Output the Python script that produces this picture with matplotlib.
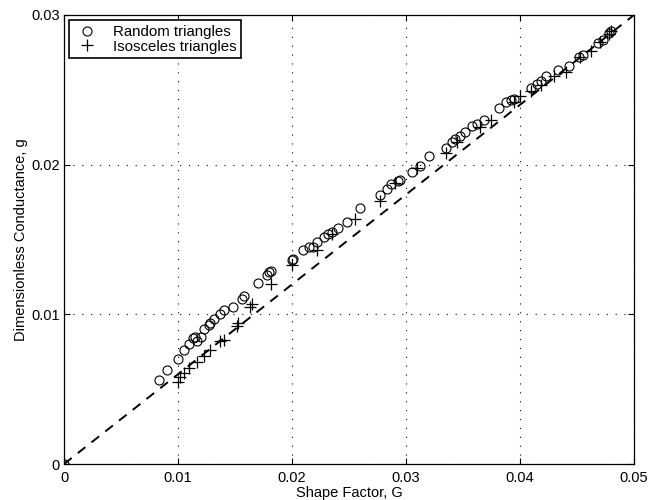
import matplotlib
matplotlib.use("Agg")
import matplotlib.pyplot as plt
import numpy as np

plt.rcParams['font.family'] = ['Liberation Sans', 'DejaVu Sans']

# Random triangles (G, g)
rand_G = [0.0, 0.0083, 0.0090, 0.0100, 0.0105, 0.0110, 0.0113, 0.0115, 0.0117, 0.0120,
          0.0123, 0.0127, 0.0128, 0.0132, 0.0137, 0.0140, 0.0148, 0.0156, 0.0158, 0.0170,
          0.0178, 0.0180, 0.0182, 0.0200, 0.0201, 0.0210, 0.0215, 0.0218, 0.0222, 0.0228,
          0.0232, 0.0235, 0.0240, 0.0248, 0.0260, 0.0277, 0.0283, 0.0287, 0.0293, 0.0295,
          0.0305, 0.0312, 0.0320, 0.0335, 0.0340, 0.0343, 0.0347, 0.0352, 0.0358, 0.0362,
          0.0368, 0.0382, 0.0388, 0.0392, 0.0395, 0.0410, 0.0415, 0.0418, 0.0423, 0.0433,
          0.0443, 0.0452, 0.0455, 0.0468, 0.0473, 0.0478, 0.0480]
rand_g = [0.0, 0.0056, 0.0063, 0.0070, 0.0076, 0.0080, 0.0084, 0.0085, 0.0082, 0.0085,
          0.0090, 0.0093, 0.0094, 0.0097, 0.0100, 0.0103, 0.0105, 0.0110, 0.0112, 0.0121,
          0.0126, 0.0128, 0.0129, 0.0136, 0.0137, 0.0143, 0.0145, 0.0145, 0.0148, 0.0152,
          0.0154, 0.0155, 0.0158, 0.0162, 0.0171, 0.0180, 0.0184, 0.0187, 0.0189, 0.0190,
          0.0195, 0.0199, 0.0206, 0.0211, 0.0215, 0.0217, 0.0219, 0.0222, 0.0226, 0.0227,
          0.0230, 0.0238, 0.0242, 0.0243, 0.0244, 0.0251, 0.0254, 0.0256, 0.0259, 0.0263,
          0.0266, 0.0272, 0.0273, 0.0281, 0.0283, 0.0288, 0.0289]

# Isosceles triangles (G, g)
iso_G = [0.0, 0.0100, 0.0102, 0.0105, 0.0110, 0.0117, 0.0123, 0.0128, 0.0137, 0.0140,
         0.0152, 0.0153, 0.0163, 0.0165, 0.0182, 0.0200, 0.0222, 0.0235, 0.0255, 0.0277,
         0.0290, 0.0310, 0.0335, 0.0345, 0.0365, 0.0375, 0.0395, 0.0400, 0.0410, 0.0418,
         0.0430, 0.0440, 0.0453, 0.0462, 0.0470, 0.0478, 0.0480]
iso_g = [0.0, 0.0055, 0.0058, 0.0061, 0.0064, 0.0068, 0.0072, 0.0076, 0.0082, 0.0083,
         0.0092, 0.0094, 0.0105, 0.0107, 0.0120, 0.0133, 0.0143, 0.0154, 0.0164, 0.0176,
         0.0188, 0.0198, 0.0208, 0.0215, 0.0225, 0.0230, 0.0242, 0.0246, 0.0249, 0.0253,
         0.0259, 0.0262, 0.0272, 0.0276, 0.0282, 0.0287, 0.0289]

# reference line g = 0.6 G
line_G = [0.0, 0.05]
slope = 0.6

ticks_x = [0, 0.01, 0.02, 0.03, 0.04, 0.05]
ticks_y = [0, 0.01, 0.02, 0.03]

fig = plt.figure(figsize=(6.64, 5), dpi=100)
ax = fig.add_axes([0.0964, 0.072, 0.8584, 0.898])

ax.plot(rand_G, rand_g, linestyle='none', marker='o', markersize=6.5,
        markerfacecolor='none', markeredgecolor='black', markeredgewidth=0.8,
        label='Random triangles')
ax.plot(iso_G, iso_g, linestyle='none', marker='+', markersize=8,
        color='black', markeredgewidth=0.9, label='Isosceles triangles')
ax.plot(line_G, [slope * v for v in line_G], color='black', linestyle=(0, (5, 4)),
        linewidth=1.4)

ax.set_xlim(0, 0.05)
ax.set_ylim(0, 0.03)
ax.set_xticks(ticks_x)
ax.set_xticklabels(['0', '0.01', '0.02', '0.03', '0.04', '0.05'])
ax.set_yticks(ticks_y)
ax.set_yticklabels(['0', '0.01', '0.02', '0.03'])
ax.tick_params(direction='in', top=True, right=True, labelsize=10.5, length=4,
               width=0.8)
ax.tick_params(axis='x', pad=5)
ax.tick_params(axis='y', pad=3)
ax.grid(True, color='black', linestyle=(0, (1, 7)), linewidth=0.8)
for s in ax.spines.values():
    s.set_linewidth(0.9)

ax.set_xlabel('Shape Factor, G', fontsize=10.5, labelpad=1)
ax.set_ylabel('Dimensionless Conductance, g', fontsize=10.5, labelpad=2)

leg = ax.legend(loc='upper left', fontsize=10.8, fancybox=False, framealpha=1,
                edgecolor='black', borderpad=0.3, labelspacing=0.05,
                handletextpad=0.8, handlelength=1.8, borderaxespad=0.35)
leg.get_frame().set_linewidth(1.2)

fig.savefig('out.png', dpi=100)
